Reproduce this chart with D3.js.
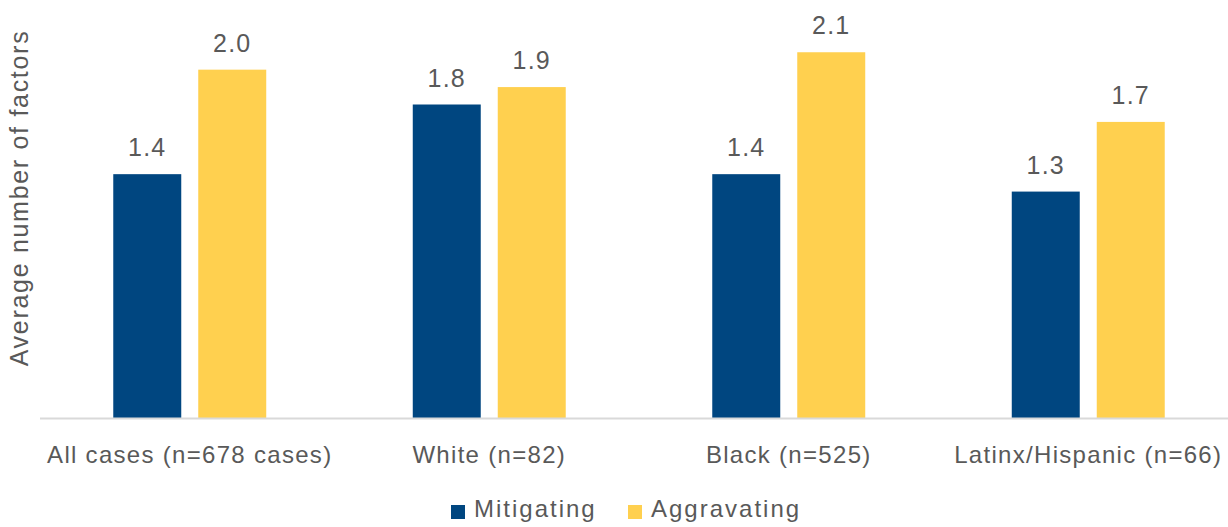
<!DOCTYPE html>
<html>
<head>
<meta charset="utf-8">
<script src="https://cdn.jsdelivr.net/npm/d3@7"></script>
<style>
  html, body { margin: 0; padding: 0; background: #fff; }
  svg { display: block; }
  text { font-family: "Liberation Sans", Arial, sans-serif; fill: #595959; }
</style>
</head>
<body>
<svg id="chart" width="1228" height="527"></svg>
<script>
// Average number of mitigating and aggravating factors, by group
const categories = ["All cases (n=678 cases)", "White (n=82)", "Black (n=525)", "Latinx/Hispanic (n=66)"];
const seriesNames = ["Mitigating", "Aggravating"];
const mitigating = [1.4, 1.8, 1.4, 1.3];
const aggravating = [2.0, 1.9, 2.1, 1.7];
const seriesColors = ["#004680", "#FFD04F"];
const yTitle = "Average number of factors";

const svg = d3.select("#chart");
const W = 1228, H = 527;
const plot = { left: 40, right: 1238, top: 0, bottom: 418 };

const values = [mitigating, aggravating];
const rows = categories.map((c, i) => ({ category: c, vals: seriesNames.map((s, j) => ({ series: s, idx: j, value: values[j][i] })) }));

const x0 = d3.scaleBand().domain(categories).range([plot.left, plot.right]).paddingInner(0).paddingOuter(0);
const x1 = d3.scaleBand().domain(seriesNames).range([0, x0.bandwidth()]).paddingInner(0.2).paddingOuter(0.862);
const y = d3.scaleLinear().domain([0, 2.4]).range([plot.bottom, plot.top]);

// Bars
const groups = svg.append("g").selectAll("g").data(rows).join("g")
  .attr("transform", d => `translate(${x0(d.category)},0)`);

groups.selectAll("rect").data(d => d.vals).join("rect")
  .attr("x", d => x1(d.series))
  .attr("y", d => y(d.value))
  .attr("width", x1.bandwidth())
  .attr("height", d => y(0) - y(d.value))
  .attr("fill", d => seriesColors[d.idx]);

// Value labels
groups.selectAll("text.val").data(d => d.vals).join("text")
  .attr("class", "val")
  .attr("x", d => x1(d.series) + x1.bandwidth() / 2)
  .attr("y", d => y(d.value) - 18)
  .attr("text-anchor", "middle")
  .style("font-size", "25px")
  .style("letter-spacing", "1.2px")
  .text(d => d.value.toFixed(1));

// Category axis
const xAxis = svg.append("g")
  .attr("transform", `translate(0,${plot.bottom + 0.5})`)
  .call(d3.axisBottom(x0).tickSize(0).tickPadding(0));
xAxis.select(".domain").attr("stroke", "#d9d9d9").attr("stroke-width", 2)
  .attr("d", `M${plot.left},0H${W}`);
xAxis.selectAll(".tick text")
  .attr("y", 44)
  .attr("dy", null)
  .style("font-size", "24px")
  .style("letter-spacing", "1.3px")
  .style("font-family", "'Liberation Sans', Arial, sans-serif")
  .attr("fill", "#595959");

// Y axis title
svg.append("text")
  .attr("transform", `translate(28,${198}) rotate(-90)`)
  .attr("text-anchor", "middle")
  .style("font-size", "25px")
  .style("letter-spacing", "1.7px")
  .text(yTitle);

// Legend
const legend = svg.append("g").attr("transform", "translate(451,505)");
const legendOffsets = [0, 177];
seriesNames.forEach((s, i) => {
  const g = legend.append("g").attr("transform", `translate(${legendOffsets[i]},0)`);
  g.append("rect").attr("width", 14).attr("height", 14).attr("fill", seriesColors[i]);
  g.append("text").attr("x", 23).attr("y", 12)
    .style("font-size", "24px")
    .style("letter-spacing", "2px")
    .text(s);
});
</script>
</body>
</html>
